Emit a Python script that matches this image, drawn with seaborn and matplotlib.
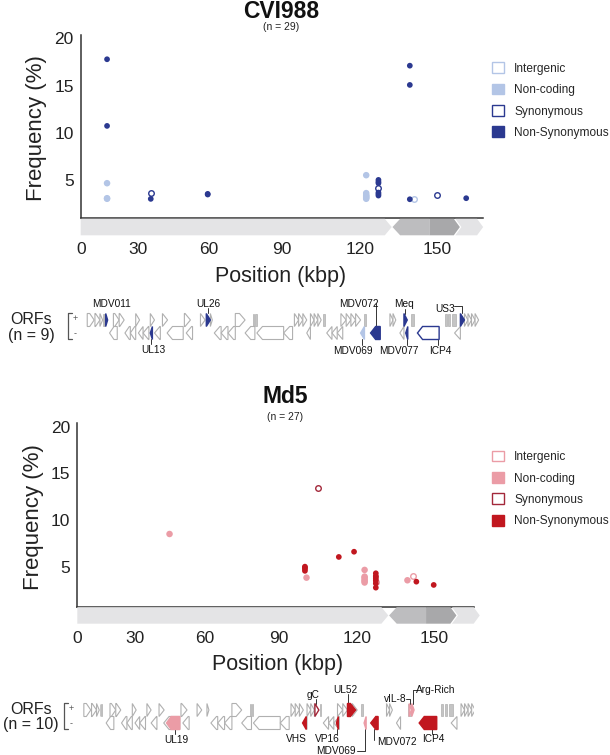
import numpy as np
import pandas as pd
import seaborn as sns
import matplotlib.pyplot as plt
from matplotlib.patches import Polygon, Rectangle, Patch

W, H = 610, 755

# CVI988 minor variants: position (kbp), frequency (%), class
cvi_pos = [13.7, 13.7, 13.7, 13.7, 13.7,
           35.3, 35.3,
           59.7, 59.7,
           122.2, 122.2, 122.2, 122.2, 122.2, 122.2, 122.2,
           127.0, 127.0, 127.0, 127.0, 127.0, 127.0, 127.0,
           139.3, 139.3, 139.3,
           140.8, 150.0, 161.5]
cvi_freq = [17.78, 10.72, 4.65, 3.06, 3.0,
            3.59, 2.99,
            3.52, 3.45,
            5.5, 3.6, 3.4, 3.3, 3.2, 3.1, 3.0,
            5.0, 4.8, 4.65, 4.12, 3.66, 3.5, 3.34,
            17.1, 15.06, 2.95,
            2.95, 3.41, 3.06]
cvi_cat = ['NS', 'NS', 'NC', 'NC', 'NC',
           'SYN', 'NS',
           'NS', 'NS',
           'NC', 'NC', 'NC', 'NC', 'NC', 'NC', 'NC',
           'NS', 'NS', 'NS', 'SYN', 'NS', 'NS', 'NS',
           'NS', 'NS', 'NS',
           'IG', 'SYN', 'NS']

# Md5 minor variants
md5_pos = [44.8,
           100.1, 100.1, 100.1, 100.1, 100.7,
           105.2, 113.0, 118.8,
           122.9, 122.9, 122.9, 122.9, 122.9, 122.9,
           127.3, 127.3, 127.3, 127.3, 127.3, 127.3, 127.3, 127.3,
           139.7, 141.7, 143.2, 150.0]
md5_freq = [8.5,
            5.0, 4.9, 4.75, 4.55, 3.82,
            13.47, 6.04, 6.6,
            4.65, 3.93, 3.8, 3.6, 3.45, 3.3,
            4.29, 4.0, 3.9, 3.71, 3.5, 3.2, 2.75, 3.33,
            3.54, 4.0, 3.39, 3.04]
md5_cat = ['NC',
           'NS', 'NS', 'NS', 'NS', 'NC',
           'SYN', 'NS', 'NS',
           'NC', 'NC', 'NC', 'NC', 'NC', 'NC',
           'NS', 'NS', 'NS', 'NS', 'NS', 'NS', 'NS', 'IG',
           'NC', 'IG', 'NS', 'NS']

cat_order = ['IG', 'NC', 'SYN', 'NS']
cat_names = ['Intergenic', 'Non-coding', 'Synonymous', 'Non-Synonymous']

# genome regions (UL, IRL, IRS, US) in kbp
region_start = [0, 132.5, 147.0, 157.2]
region_end = [132.2, 147.0, 159.0, 168.2]

# background ORFs shared by both genomes (kbp)
plus_start = [3.4, 7.4, 10.0, 17.0, 20.0, 28.6, 35.1, 40.3, 49.7, 56.6, 60.8, 71.0,
              94.8, 96.4, 98.0, 100.9, 102.3, 103.7, 112.5, 114.5, 116.3, 118.1,
              131.5, 132.7, 160.8, 162.2, 163.6, 165.0]
plus_end = [7.0, 10.0, 11.4, 20.0, 22.6, 30.5, 36.9, 42.5, 52.3, 58.6, 61.6, 75.0,
            96.4, 98.0, 99.5, 102.3, 103.7, 105.0, 114.5, 116.3, 118.1, 120.0,
            132.7, 133.8, 162.2, 163.6, 165.0, 166.4]
minus_start = [15.0, 23.0, 25.8, 30.0, 32.0, 36.9, 42.3, 50.5, 62.4, 65.2, 68.0,
               75.0, 79.8, 90.7, 99.5, 107.1, 109.1, 111.1, 135.4, 156.9]
minus_end = [19.0, 25.8, 28.6, 32.0, 34.5, 39.4, 49.2, 53.2, 65.2, 68.0, 71.0,
             79.0, 90.7, 94.1, 100.9, 109.1, 111.1, 113.2, 137.0, 159.2]
repeat_start = [11.6, 12.2, 78.2, 79.2, 105.7, 121.5, 139.8, 153.0, 154.4, 156.0]
repeat_end = [12.0, 12.6, 78.8, 79.8, 106.3, 122.2, 141.0, 153.8, 155.2, 157.6]

# highlighted ORFs
cvi_orf = ['MDV011', 'UL13', 'UL26', 'MDV069', 'MDV072', 'Meq', 'MDV077', 'ICP4', 'US3']
cvi_orf_start = [13.0, 35.1, 59.1, 120.0, 123.9, 137.0, 137.7, 142.3, 159.2]
cvi_orf_end = [14.0, 36.0, 60.8, 121.5, 127.7, 138.3, 138.5, 150.8, 160.8]
cvi_orf_strand = ['+', '-', '+', '-', '-', '+', '-', '-', '+']
cvi_orf_cat = ['NS', 'NS', 'NS', 'NC', 'NS', 'NS', 'NS', 'SYN', 'NS']

md5_orf = ['UL19', 'VHS', 'gC', 'VP16', 'UL52', 'MDV069', 'MDV072', 'vIL-8', 'Arg-Rich', 'ICP4']
md5_orf_start = [43.5, 99.2, 103.9, 112.1, 116.3, 122.7, 125.3, 140.4, 141.4, 144.3]
md5_orf_end = [49.2, 100.6, 105.4, 112.8, 119.4, 123.5, 128.2, 141.2, 142.3, 151.2]
md5_orf_strand = ['-', '-', '+', '-', '+', '-', '-', '+', '+', '-']
md5_orf_cat = ['NC', 'NS', 'SYN', 'NS', 'NS', 'NC', 'NS', 'IG', 'NC', 'NS']

# the published position axis is not evenly spaced: tick value -> offset (px) from the y axis
tick_kbp = [-30, 0, 30, 60, 90, 120, 150, 200]
tick_px = [-57.7, 0, 57.7, 127.7, 201.1, 279.9, 356.4, 482.9]

blue = {'IG': '#b3c5e6', 'NC': '#b3c5e6', 'SYN': '#2b3990', 'NS': '#2b3990'}
red = {'IG': '#eb9ca6', 'NC': '#eb9ca6', 'SYN': '#a3283a', 'NS': '#c1171f'}
open_cats = ['IG', 'SYN']

sns.set_theme(style='white')
plt.rcParams['font.family'] = ['Liberation Sans', 'DejaVu Sans']
ink = '#333333'

fig = plt.figure(figsize=(W / 100, H / 100), dpi=100)


def fwd(x):
    return np.interp(x, tick_kbp, tick_px)


def inv(p):
    return np.interp(p, tick_px, tick_kbp)


def box(l, t, r, b):
    return [l / W, 1 - b / H, (r - l) / W, (b - t) / H]


def fx(x):
    return x / W


def fy(y):
    return 1 - y / H


def gene_shape(s, e, strand, yc, h=13, head=2.3):
    hd = min(head, e - s)
    t, b = yc - h / 2, yc + h / 2
    if strand == '+':
        return [(s, t), (e - hd, t), (e, yc), (e - hd, b), (s, b)]
    return [(e, t), (s + hd, t), (s, yc), (s + hd, b), (e, b)]


def pos_axis(ax, xmax):
    ax.set_xscale('function', functions=(fwd, inv))
    ax.set_xlim(0, xmax)


def draw_panel(L, top, ppu, xmax, pos, freq, cat, pal, title, n_txt, title_x, title_y, n_y,
               orf_top, names, o_start, o_end, o_strand, o_cat, labels, n_orf):
    # top = pixel row of the "20" tick, axis line 180 px below it
    R = L + float(fwd(xmax))
    base = top + 180
    ax = fig.add_axes(box(L, top - 3.5, R, base))
    df = pd.DataFrame({'pos': pos, 'freq': freq, 'cat': cat})
    for c in cat_order:
        sub = df[df['cat'] == c]
        if c in open_cats:
            sns.scatterplot(data=sub, x='pos', y='freq', ax=ax, s=16, color='white',
                            edgecolor=pal[c], linewidth=1.0, legend=False, zorder=3)
        else:
            sns.scatterplot(data=sub, x='pos', y='freq', ax=ax, s=17 if c == 'NS' else 22,
                            color=pal[c], edgecolor='none', legend=False, zorder=3)
    pos_axis(ax, xmax)
    ax.set_ylim(20 - 180 / ppu, 20 + 3.5 / ppu)
    ax.set_yticks([5, 10, 15, 20])
    ax.set_xticks([])
    ax.set_xticks([], minor=True)
    ax.set_xlabel('')
    ax.set_ylabel('')
    ax.tick_params(axis='y', length=0, pad=5, labelsize=12.5, colors='#222222')
    sns.despine(ax=ax)
    for sp in ['left', 'bottom']:
        ax.spines[sp].set_color(ink)
        ax.spines[sp].set_linewidth(1.1)
    ax.patch.set_alpha(0)

    # genome bar under the axis line
    bax = fig.add_axes(box(L, base + 0.5, R, base + 17))
    pos_axis(bax, xmax)
    bax.set_ylim(0, 1)
    cols = ['#e4e4e6', '#bdbdbf', '#a8a8aa', '#e4e4e6']
    for i, (s, e) in enumerate(zip(region_start, region_end)):
        if i == 0:
            pts = [(s, 0), (e - 2.7, 0), (e, 0.5), (e - 2.7, 1), (s, 1)]
        elif i == 1:
            pts = [(s, 0.5), (s + 3, 0), (e, 0), (e, 1), (s + 3, 1)]
        elif i == 2:
            pts = [(s, 0), (e - 2.4, 0), (e, 0.5), (e - 2.4, 1), (s, 1)]
        else:
            pts = [(s, 0), (e - 2.4, 0), (e, 0.5), (e - 2.4, 1), (s, 1), (s + 2.4, 0.5)]
        bax.add_patch(Polygon(pts, closed=True, facecolor=cols[i], edgecolor='none', clip_on=False))
    bax.set_xticks([0, 30, 60, 90, 120, 150])
    bax.set_xticklabels(['0', '30', '60', '90', '120', '150'])
    bax.set_xticks([], minor=True)
    bax.set_yticks([])
    bax.tick_params(axis='x', length=3, width=1, color=ink, pad=2, labelsize=12.5,
                    labelcolor='#222222')
    for sp in bax.spines.values():
        sp.set_visible(False)
    bax.patch.set_alpha(0)

    fig.text(fx(title_x), fy(title_y), title, ha='center', va='baseline', fontsize=16.5,
             fontweight='bold', color='#111111')
    fig.text(fx(title_x), fy(n_y), n_txt, ha='center', va='center', fontsize=7.5,
             color='#222222')
    fig.text(fx(L - 44), fy(top + 90), 'Frequency (%)', rotation=90, ha='center',
             va='center', fontsize=16, color='#222222')
    fig.text(fx(L + 200), fy(base + 58), 'Position (kbp)', ha='center', va='center',
             fontsize=15.5, color='#222222')

    handles = []
    for c in cat_order:
        if c in open_cats:
            handles.append(Patch(facecolor='white', edgecolor=pal[c], linewidth=1.0))
        else:
            handles.append(Patch(facecolor=pal[c], edgecolor=pal[c], linewidth=1.0))
    ax.legend(handles, cat_names, loc='upper left', bbox_to_anchor=(fx(492), fy(top + 24)),
              bbox_transform=fig.transFigure, frameon=False, fontsize=8.6,
              handlelength=1.0, handleheight=1.0, handletextpad=0.85, labelspacing=0.75,
              borderpad=0, borderaxespad=0)

    # ORF track
    yp, ym = orf_top + 25, orf_top + 38
    oax = fig.add_axes(box(L, orf_top, R, orf_top + 70))
    pos_axis(oax, xmax)
    oax.set_ylim(orf_top + 70, orf_top)
    oax.axis('off')
    g = '#b0b0b0'
    for s, e in zip(plus_start, plus_end):
        oax.add_patch(Polygon(gene_shape(s, e, '+', yp), closed=True, facecolor='white',
                              edgecolor=g, linewidth=0.8))
    for s, e in zip(minus_start, minus_end):
        oax.add_patch(Polygon(gene_shape(s, e, '-', ym), closed=True, facecolor='white',
                              edgecolor=g, linewidth=0.8))
    for s, e in zip(repeat_start, repeat_end):
        oax.add_patch(Rectangle((s, yp - 6), e - s, 12, facecolor='#c4c4c4', edgecolor=g,
                                linewidth=0.5))
    for nm, s, e, st, c in zip(names, o_start, o_end, o_strand, o_cat):
        yc = yp if st == '+' else ym
        col = pal[c]
        if c in open_cats:
            fc, ec = 'white', col
        else:
            fc, ec = col, col
        oax.add_patch(Polygon(gene_shape(s, e, st, yc, head=2.0), closed=True, facecolor=fc,
                              edgecolor=ec, linewidth=1.0, zorder=3))
        lx, ly, line = labels[nm]
        oax.text(lx, ly, nm, ha='center', va='center', fontsize=7.3, color='#111111')
        if line:
            oax.plot([p[0] for p in line], [p[1] for p in line], color='#333333', lw=0.7)

    fig.text(fx(31), fy(orf_top + 24), 'ORFs', ha='center', va='center', fontsize=11.5,
             color='#222222')
    fig.text(fx(31), fy(orf_top + 40), n_orf, ha='center', va='center', fontsize=11.5,
             color='#222222')
    bx = L - 13
    fig.add_artist(plt.Line2D([fx(bx + 4), fx(bx), fx(bx), fx(bx + 4)],
                              [fy(orf_top + 18), fy(orf_top + 18), fy(orf_top + 44),
                               fy(orf_top + 44)], color='#555555', lw=0.9))
    fig.text(fx(bx + 7), fy(yp - 1), '+', ha='center', va='center', fontsize=6.5, color='#555555')
    fig.text(fx(bx + 7), fy(ym + 1), '-', ha='center', va='center', fontsize=6.5, color='#555555')


o1 = 295
cvi_labels = {
    'MDV011': (16.0, o1 + 9, None),
    'UL13': (36.4, o1 + 55, [(35.6, o1 + 44), (35.6, o1 + 49)]),
    'UL26': (60.0, o1 + 9, [(59.8, o1 + 13), (59.8, o1 + 18)]),
    'MDV069': (116.9, o1 + 56, [(120.7, o1 + 44), (120.7, o1 + 50)]),
    'MDV072': (119.3, o1 + 9, [(125.9, o1 + 8), (125.9, o1 + 32)]),
    'Meq': (137.0, o1 + 9, [(137.6, o1 + 14), (137.6, o1 + 19)]),
    'MDV077': (135.0, o1 + 56, [(138.1, o1 + 44), (138.1, o1 + 50)]),
    'ICP4': (151.3, o1 + 56, [(150.3, o1 + 44), (150.3, o1 + 50)]),
    'US3': (153.0, o1 + 14, [(156.6, o1 + 11), (160.0, o1 + 11), (160.0, o1 + 18)]),
}
o2 = 685
md5_labels = {
    'UL19': (47.5, o2 + 55, [(47.0, o2 + 44), (47.0, o2 + 49)]),
    'VHS': (96.7, o2 + 54, None),
    'gC': (103.3, o2 + 10, [(104.5, o2 + 14), (104.5, o2 + 19)]),
    'VP16': (108.5, o2 + 54, [(112.4, o2 + 44), (112.4, o2 + 49)]),
    'UL52': (115.5, o2 + 5, [(116.6, o2 + 9), (116.6, o2 + 19)]),
    'MDV069': (112.0, o2 + 66, [(119.8, o2 + 66), (123.1, o2 + 66), (123.1, o2 + 44)]),
    'MDV072': (135.5, o2 + 57, [(126.4, o2 + 44), (126.4, o2 + 55)]),
    'vIL-8': (135.0, o2 + 14, [(139.3, o2 + 14), (140.8, o2 + 14), (140.8, o2 + 19)]),
    'Arg-Rich': (151.0, o2 + 5, [(143.6, o2 + 5), (141.9, o2 + 5), (141.9, o2 + 19)]),
    'ICP4': (150.0, o2 + 54, [(149.5, o2 + 44), (149.5, o2 + 49)]),
}

draw_panel(80.7, 38.3, 9.44, 168.2, cvi_pos, cvi_freq, cvi_cat, blue, 'CVI988', '(n = 29)',
           281, 18.0, 26.5, o1, cvi_orf, cvi_orf_start, cvi_orf_end, cvi_orf_strand,
           cvi_orf_cat, cvi_labels, '(n = 9)')
draw_panel(77.3, 426.7, 9.33, 165.9, md5_pos, md5_freq, md5_cat, red, 'Md5', '(n = 27)',
           285, 403.0, 417.0, o2, md5_orf, md5_orf_start, md5_orf_end, md5_orf_strand,
           md5_orf_cat, md5_labels, '(n = 10)')

fig.savefig('out.png', dpi=100)
